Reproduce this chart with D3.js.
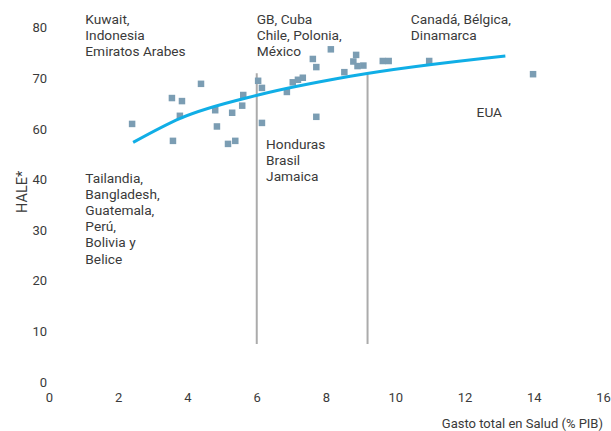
<!DOCTYPE html>
<html>
<head>
<meta charset="utf-8">
<script src="https://cdn.jsdelivr.net/npm/d3@7"></script>
<style>
  html, body { margin: 0; padding: 0; background: #fff; }
  svg text { font-family: Roboto, "Noto Sans", sans-serif; fill: #3a3a3a; }
</style>
</head>
<body>
<svg id="chart" width="611" height="431"></svg>
<script>
// ---- data ----
const xTicks = [0, 2, 4, 6, 8, 10, 12, 14, 16];
const yTicks = [0, 10, 20, 30, 40, 60, 70, 80];

// scatter: health spending (% GDP) and HALE
const pointX = [2.40, 3.55, 3.84, 4.39, 3.78, 3.58, 4.80, 4.85, 5.17, 5.38, 5.29, 5.61, 5.58,
                6.04, 6.15, 6.15, 6.87, 7.04, 7.19, 7.33, 7.62, 7.72, 7.72, 8.14, 8.53, 8.87,
                8.79, 8.91, 9.08, 9.64, 9.81, 10.98, 13.98];
const pointY = [61.0, 66.1, 65.5, 68.9, 62.6, 55.3, 63.7, 60.5, 54.1, 55.3, 63.2, 66.7, 64.6,
                69.5, 68.1, 61.2, 67.3, 69.2, 69.7, 70.1, 73.8, 72.2, 62.4, 75.7, 71.2, 74.6,
                73.3, 72.4, 72.5, 73.4, 73.4, 73.4, 70.8];

// trend curve
const trendX = [2.43, 3.79, 6.04, 8.70, 13.18];
const trendY = [54.7, 62.1, 66.7, 70.4, 74.4];

// reference vertical lines
const refLines = [6.0, 9.2];
const refTop = 71;
const refBottom = 7.5;

// annotation groups
const annotations = [
  { x: 1.05, y: 80.7, lines: ["Kuwait,", "Indonesia", "Emiratos Arabes"] },
  { x: 6.0,  y: 80.7, lines: ["GB, Cuba", "Chile, Polonia,", "México"] },
  { x: 10.45, y: 80.7, lines: ["Canadá, Bélgica,", "Dinamarca"] },
  { x: 1.05, y: 39.4, lines: ["Tailandia,", "Bangladesh,", "Guatemala,", "Perú,", "Bolivia y", "Belice"] },
  { x: 6.27, y: 52.2, lines: ["Honduras", "Brasil", "Jamaica"] },
  { x: 12.35, y: 62.4, lines: ["EUA"] }
];

const yTitle = "HALE*";
const xTitle = "Gasto total en Salud (% PIB)";

// ---- chart ----
const svg = d3.select("#chart");
const x = d3.scaleLinear().domain([0, 16]).range([49, 603]);
// axis has no 50 label: evenly spaced labels, piecewise scale
const y = d3.scaleLinear().domain([0, 40, 60, 80]).range([382, 179.5, 129, 27.5]);

// reference lines
svg.append("g").selectAll("line").data(refLines).join("line")
  .attr("x1", d => x(d)).attr("x2", d => x(d))
  .attr("y1", y(refTop)).attr("y2", y(refBottom))
  .attr("stroke", "#ababab").attr("stroke-width", 2);

// axes (labels only)
const xAxis = d3.axisBottom(x).tickValues(xTicks).tickSize(0).tickPadding(0).tickFormat(d3.format("d"));
const gx = svg.append("g").attr("transform", "translate(0,392)").call(xAxis);
gx.select(".domain").remove();
gx.selectAll("text").style("font-size", "13px").attr("dy", "0.75em").attr("fill", "#3a3a3a");

const yAxis = d3.axisLeft(y).tickValues(yTicks).tickSize(0).tickPadding(0).tickFormat(d3.format("d"));
const gy = svg.append("g").attr("transform", "translate(47,0)").call(yAxis);
gy.select(".domain").remove();
gy.selectAll("text").style("font-size", "13px").attr("fill", "#3a3a3a");

svg.append("text").attr("transform", `translate(27,${(y(40)+y(30))/2 - 13}) rotate(-90)`)
  .attr("text-anchor", "middle").style("font-size", "14.5px").text(yTitle);
svg.append("text").attr("x", 603).attr("y", 428).attr("text-anchor", "end")
  .style("font-size", "13px").text(xTitle);

// points
const pts = pointX.map((v, i) => [v, pointY[i]]);
const s = 6.5;
svg.append("g").selectAll("rect").data(pts).join("rect")
  .attr("x", d => x(d[0]) - s / 2).attr("y", d => y(d[1]) - s / 2)
  .attr("width", s).attr("height", s).attr("fill", "#7b9db3");

// trend line
const trend = trendX.map((v, i) => [v, trendY[i]]);
svg.append("path").datum(trend)
  .attr("d", d3.line().x(d => x(d[0])).y(d => y(d[1])).curve(d3.curveMonotoneX))
  .attr("fill", "none").attr("stroke", "#10aee6").attr("stroke-width", 3);

// annotations
annotations.forEach(a => {
  const t = svg.append("text").attr("x", x(a.x)).attr("y", y(a.y)).style("font-size", "13.7px");
  a.lines.forEach((l, i) => t.append("tspan").attr("x", x(a.x)).attr("dy", i === 0 ? 0 : 16.2).text(l));
});
</script>
</body>
</html>
